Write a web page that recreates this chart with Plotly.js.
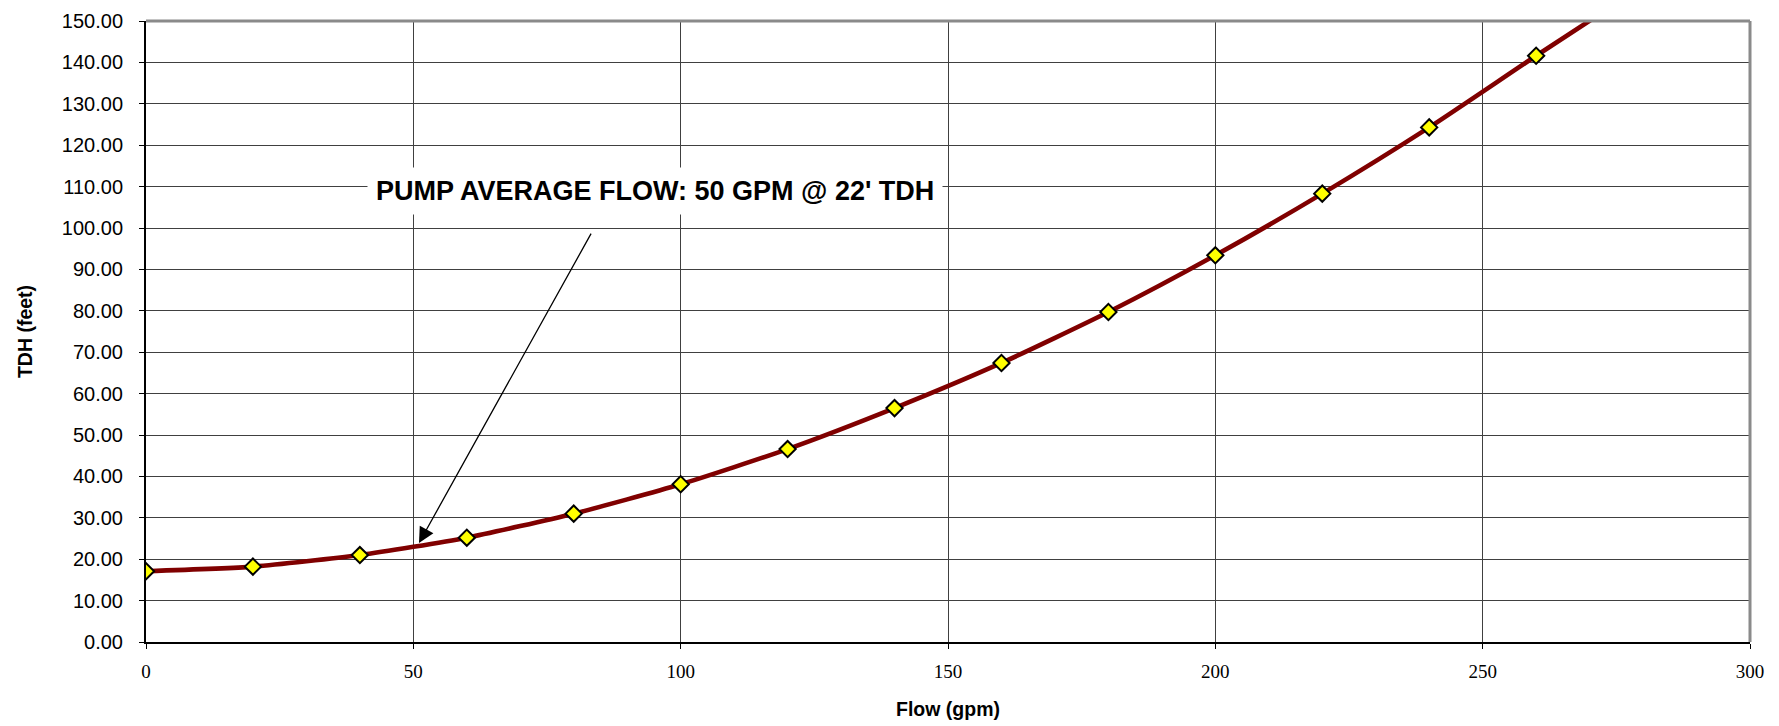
<!DOCTYPE html>
<html>
<head>
<meta charset="utf-8">
<script src="https://cdn.plot.ly/plotly-3.0.1.min.js"></script>
<style>
  html, body { margin: 0; padding: 0; background: #ffffff; }
  #chart { width: 1779px; height: 726px; }
</style>
</head>
<body>
<div id="chart"></div>
<script>
// Pump system curve: total dynamic head versus flow
const flowGpm = [0, 20, 40, 60, 80, 100, 120, 140, 160, 180, 200, 220, 240, 260, 280];
const tdhFeet = [17.1, 18.2, 21.0, 25.2, 31.0, 38.1, 46.6, 56.5, 67.4, 79.7, 93.4, 108.3, 124.3, 141.6, 158.5];

const xTickVals = [0, 50, 100, 150, 200, 250, 300];
const yTickVals = [0, 10, 20, 30, 40, 50, 60, 70, 80, 90, 100, 110, 120, 130, 140, 150];

// Operating point callout
const calloutText = "PUMP AVERAGE FLOW: 50 GPM @ 22' TDH";
const calloutLabelAt = [95.2, 109.0];
const calloutTail = [83.4, 99.0];
const calloutHead = [51.06, 23.9];

const sans = 'Liberation Sans, Arial, Helvetica, sans-serif';
const serif = 'Liberation Serif, Times New Roman, serif';

const trace = {
  type: 'scatter',
  mode: 'lines+markers',
  x: flowGpm,
  y: tdhFeet,
  line: { color: '#800000', width: 4.6, shape: 'spline', smoothing: 0.6 },
  marker: {
    symbol: 'diamond',
    size: 12.5,
    color: '#ffff00',
    line: { color: '#000000', width: 2 }
  },
  cliponaxis: true,
  hoverinfo: 'x+y'
};

const layout = {
  width: 1779,
  height: 726,
  margin: { l: 146, r: 29, t: 21, b: 84, pad: 0 },
  paper_bgcolor: '#ffffff',
  plot_bgcolor: '#ffffff',
  showlegend: false,
  xaxis: {
    range: [0, 300],
    tickmode: 'array',
    tickvals: xTickVals,
    ticktext: xTickVals.map(String),
    ticks: 'outside',
    ticklen: 5,
    tickwidth: 1,
    tickcolor: '#000000',
    ticklabelstandoff: 6,
    tickfont: { family: serif, size: 19, color: '#000000' },
    showgrid: true,
    gridcolor: '#404040',
    gridwidth: 1,
    showline: true,
    linecolor: '#000000',
    linewidth: 2,
    zeroline: false,
    fixedrange: true,
    title: {
      text: 'Flow (gpm)',
      font: { family: sans, size: 19.5, color: '#000000', weight: 'bold' },
      standoff: 22
    }
  },
  yaxis: {
    range: [0, 150],
    tickmode: 'array',
    tickvals: yTickVals,
    ticktext: yTickVals.map(v => v.toFixed(2)),
    ticks: 'outside',
    ticklen: 5,
    tickwidth: 1,
    tickcolor: '#000000',
    ticklabelstandoff: 12,
    tickfont: { family: sans, size: 20, color: '#000000' },
    showgrid: true,
    gridcolor: '#404040',
    gridwidth: 1,
    showline: true,
    linecolor: '#000000',
    linewidth: 2,
    zeroline: false,
    fixedrange: true,
    title: {
      text: 'TDH (feet)',
      font: { family: sans, size: 19.5, color: '#000000', weight: 'bold' },
      standoff: 24
    }
  },
  shapes: [
    // grey frame on the top and right of the plot area
    { type: 'line', xref: 'paper', yref: 'paper', x0: 0, x1: 1, y0: 1, y1: 1,
      line: { color: '#8a8a8a', width: 3 } },
    { type: 'line', xref: 'paper', yref: 'paper', x0: 1, x1: 1, y0: 0, y1: 1,
      line: { color: '#8a8a8a', width: 3 } }
  ],
  annotations: [
    {
      x: calloutLabelAt[0], y: calloutLabelAt[1], xref: 'x', yref: 'y',
      text: calloutText,
      showarrow: false,
      bgcolor: '#ffffff',
      borderpad: 8,
      font: { family: sans, size: 27, color: '#000000', weight: 'bold' },
      xanchor: 'center', yanchor: 'middle'
    },
    {
      x: calloutHead[0], y: calloutHead[1], xref: 'x', yref: 'y',
      ax: calloutTail[0], ay: calloutTail[1], axref: 'x', ayref: 'y',
      text: '',
      showarrow: true,
      arrowhead: 2,
      arrowsize: 2.4,
      arrowwidth: 1.3,
      arrowcolor: '#000000',
      standoff: 0,
      startstandoff: 0
    }
  ]
};

Plotly.newPlot('chart', [trace], layout, { displayModeBar: false, staticPlot: true });
</script>
</body>
</html>
